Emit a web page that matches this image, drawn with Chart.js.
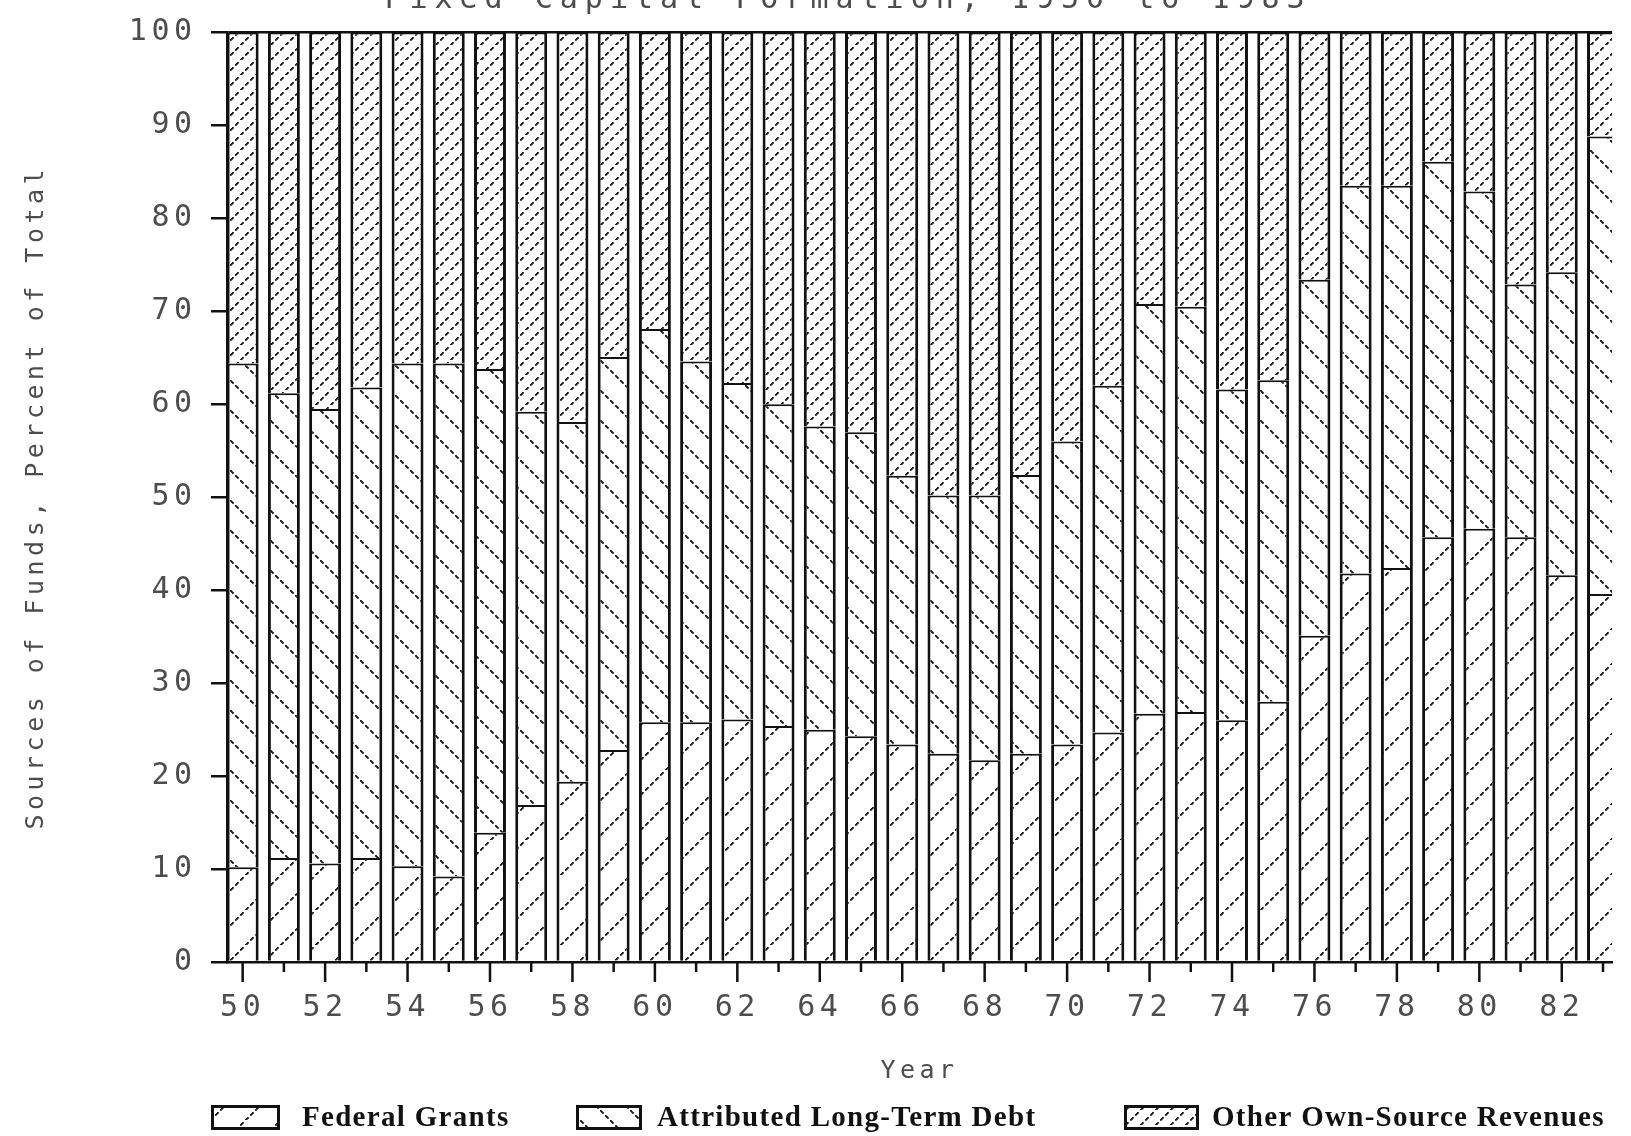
<!DOCTYPE html>
<html>
<head>
<meta charset="utf-8">
<script src="https://cdn.jsdelivr.net/npm/chart.js@4.4.1/dist/chart.umd.min.js"></script>
<style>
  html, body { margin:0; padding:0; background:#fff; overflow:hidden; }
  #wrap { position:relative; width:1631px; height:1136px; }
</style>
</head>
<body>
<div id="wrap"><canvas id="fundsChart"></canvas></div>
<script>
// Sources of funds for fixed capital formation, percent of total, 1950-1983

const years = [50,51,52,53,54,55,56,57,58,59,60,61,62,63,64,65,66,67,68,69,70,71,72,73,74,75,76,77,78,79,80,81,82,83];

const federalGrants = [10.2,11.2,10.6,11.2,10.3,9.2,13.9,16.9,19.4,22.8,25.8,25.8,26.1,25.4,25.0,24.3,23.4,22.4,21.7,22.4,23.4,24.7,26.7,26.9,26.0,28.0,35.1,41.8,42.4,45.7,46.6,45.7,41.6,39.6];
const longTermDebt  = [54.2,50.0,48.9,50.6,54.1,55.2,49.9,42.3,38.7,42.3,42.3,38.8,36.2,34.6,32.6,32.7,28.9,27.8,28.5,30.0,32.6,37.3,44.1,43.6,35.6,34.6,38.3,41.7,41.1,40.4,36.3,27.2,32.6,49.2];
const ownSource     = [35.6,38.8,40.5,38.2,35.6,35.6,36.2,40.8,41.9,34.9,31.9,35.4,37.7,40.0,42.4,43.0,47.7,49.8,49.8,47.6,44.0,38.0,29.2,29.5,38.4,37.4,26.6,16.5,16.5,13.9,17.1,27.1,25.8,11.2];

const seriesNames = ['Federal Grants', 'Attributed Long-Term Debt', 'Other Own-Source Revenues'];
const chartTitle = 'Fixed Capital Formation, 1950 to 1983';

const ink = '#4d4d4d';
const mono = '"DejaVu Sans Mono", monospace';

const canvas = document.getElementById('fundsChart');
const ctx2d = canvas.getContext('2d');

// dotted diagonal hatch tile, '/' or '\'
function hatch(size, dir){
  const c = document.createElement('canvas');
  c.width = size; c.height = size;
  const g = c.getContext('2d');
  g.fillStyle = '#fff';
  g.fillRect(0, 0, size, size);
  g.fillStyle = '#1c1c1c';
  for (let i = 0; i < size; i++){
    if (i % 5 > 2) continue;
    const y = dir === '/' ? size - 1 - i : i;
    g.fillRect(i, y, 1.8, 1.8);
  }
  return ctx2d.createPattern(c, 'repeat');
}

const barStyle = {
  borderColor: '#111',
  borderWidth: {top: 2, left: 3, right: 3, bottom: 0},
  borderSkipped: false,
  barPercentage: 0.775,
  categoryPercentage: 1
};

const pts = arr => years.map((yr, i) => ({x: yr, y: arr[i]}));

// legend slots: box left, box width, text left
const legendSlots = [[211, 69, 302], [576, 66, 657], [1124, 75, 1212]];

const paper = {
  id: 'paper',
  beforeDraw(chart){
    chart.ctx.letterSpacing = '4.5px';
  },
  afterDraw(chart){
    const {ctx, chartArea, scales: {x}} = chart;
    ctx.save();
    ctx.letterSpacing = '0px';

    // year tick marks, long on even years
    ctx.strokeStyle = '#111';
    ctx.lineWidth = 2.5;
    years.forEach(yr => {
      const px = x.getPixelForValue(yr);
      if (px > chartArea.right) return;
      ctx.beginPath();
      ctx.moveTo(px, chartArea.bottom);
      ctx.lineTo(px, chartArea.bottom + (yr % 2 === 0 ? 20 : 10));
      ctx.stroke();
    });

    // title sits mostly above the sheet edge
    ctx.fillStyle = ink;
    ctx.font = '30px ' + mono;
    ctx.letterSpacing = '7px';
    ctx.textAlign = 'center';
    ctx.textBaseline = 'alphabetic';
    ctx.fillText(chartTitle, 848, 8);

    // legend row
    ctx.letterSpacing = '1.3px';
    chart.data.datasets.forEach((ds, i) => {
      const [bx, bw, tx] = legendSlots[i];
      ctx.fillStyle = ds.backgroundColor;
      ctx.fillRect(bx, 1105, bw, 25);
      ctx.lineWidth = 3;
      ctx.strokeStyle = '#111';
      ctx.strokeRect(bx + 1.5, 1106.5, bw - 3, 22);
      ctx.fillStyle = '#111';
      ctx.font = 'bold 29px "Liberation Serif", serif';
      ctx.textAlign = 'left';
      ctx.fillText(ds.label, tx, 1126);
    });

    ctx.restore();
    ctx.letterSpacing = '0px';
  }
};

new Chart(canvas, {
  type: 'bar',
  data: {
    datasets: [
      {label: seriesNames[0], data: pts(federalGrants), backgroundColor: hatch(35, '/'), ...barStyle},
      {label: seriesNames[1], data: pts(longTermDebt), backgroundColor: hatch(30, '\\'), ...barStyle},
      {label: seriesNames[2], data: pts(ownSource), backgroundColor: hatch(15, '/'), ...barStyle}
    ]
  },
  options: {
    responsive: true,
    maintainAspectRatio: false,
    animation: false,
    layout: {padding: {top: 25, left: 0, right: 0, bottom: 0}},
    plugins: {legend: {display: false}, tooltip: {enabled: false}},
    scales: {
      x: {
        type: 'linear', stacked: true, min: 49.62, max: 83.22, offset: false,
        grid: {display: true, drawOnChartArea: false, drawTicks: false, offset: false},
        border: {display: true, color: '#111', width: 2.5},
        ticks: {
          stepSize: 1, includeBounds: false, autoSkip: false, maxRotation: 0,
          padding: 28, color: ink, font: {family: mono, size: 30},
          callback: v => v % 2 === 0 ? String(v) : ''
        },
        title: {display: true, text: 'Year', color: ink, font: {family: mono, size: 25}, padding: {top: 0, bottom: 50}},
        afterFit: s => { s.height = 174; }
      },
      y: {
        stacked: true, min: 0, max: 100,
        grid: {
          color: c => (c.tick && c.tick.value === 100) ? '#111' : 'rgba(0,0,0,0)',
          lineWidth: 2.5, tickLength: 16, tickColor: '#111', tickWidth: 2.5
        },
        border: {display: true, color: '#111', width: 2.5},
        ticks: {stepSize: 10, padding: 14.5, color: ink, font: {family: mono, size: 30}},
        title: {display: true, text: 'Sources of Funds, Percent of Total', color: ink, font: {family: mono, size: 25}, padding: {top: 21, bottom: 0}},
        afterFit: s => { s.width = 227; }
      }
    }
  },
  plugins: [paper]
});
</script>
</body>
</html>
